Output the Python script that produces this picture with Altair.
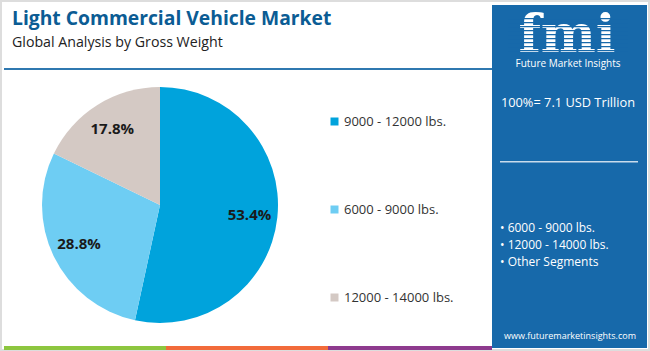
import altair as alt
import pandas as pd

# ---- data ----
segments = ["9000 - 12000 lbs.", "6000 - 9000 lbs.", "12000 - 14000 lbs."]
shares = [53.4, 28.8, 17.8]
share_labels = ["53.4%", "28.8%", "17.8%"]
colors = ["#00a3dc", "#6ecdf3", "#d4c9c4"]

title_text = "Light Commercial Vehicle Market"
subtitle_text = "Global Analysis by Gross Weight"
total_text = "100%= 7.1 USD Trillion"
bullets = ["• 6000 - 9000 lbs.", "• 12000 - 14000 lbs.", "• Other Segments"]
logo_text = "fmi"
logo_sub = "Future Market Insights"
site_text = "www.futuremarketinsights.com"

PANEL = "#1769aa"
FONT = "Open Sans"

df = pd.DataFrame({"segment": segments, "share": shares,
                   "label": share_labels, "order": list(range(len(segments)))})
one = pd.DataFrame({"k": [0]})


def rect(x, x2, y, y2, color, **kw):
    return alt.Chart(one).mark_rect(color=color, **kw).encode(
        x=alt.value(x), x2=alt.value(x2), y=alt.value(y), y2=alt.value(y2))


def txt(s, x, y, size, color, weight="normal", font=FONT, align="left"):
    return alt.Chart(one).mark_text(text=s, fontSize=size, color=color,
                                    fontWeight=weight, font=font, align=align,
                                    baseline="alphabetic").encode(
        x=alt.value(x), y=alt.value(y))


layers = []
# frame
layers.append(alt.Chart(one).mark_rect(fill="white", stroke="#dddddd", strokeWidth=2).encode(
    x=alt.value(1), x2=alt.value(649), y=alt.value(1), y2=alt.value(350)))
# title
layers.append(txt(title_text, 12, 25, 19.3, "#0b5c94", weight="bold"))
layers.append(txt(subtitle_text, 12, 46.5, 14.2, "#222222"))
layers.append(rect(4, 492, 68, 70, "#2f78b0"))

# pie
base = alt.Chart(df).encode(
    theta=alt.Theta("share:Q", stack=True),
    order=alt.Order("order:Q"),
    x=alt.value(160), y=alt.value(205))
pie = base.mark_arc(outerRadius=118).encode(
    color=alt.Color("segment:N", scale=alt.Scale(domain=segments, range=colors),
                    legend=alt.Legend(orient="none", legendX=328, legendY=115, title=None,
                                      symbolType="square", symbolSize=64,
                                      symbolStrokeWidth=0, labelFontSize=13,
                                      labelFont=FONT, labelColor="#333333",
                                      rowPadding=74, labelOffset=3)))
labels = base.mark_text(radius=90, fontSize=15, fontWeight="bold", font=FONT,
                        color="#1a1a1a").encode(text="label:N")
layers += [pie, labels]

# right panel
layers.append(rect(492, 647, 5, 348, PANEL))
layers.append(txt(logo_text, 567, 52, 52, "white", weight="bold", font="DejaVu Serif", align="center"))
for yy in range(18, 52, 4):
    layers.append(rect(508, 628, yy, yy + 1.3, PANEL))
layers.append(txt(logo_sub, 568, 67, 10, "white", align="center"))
layers.append(txt(total_text, 568, 107, 12.8, "white", align="center"))
layers.append(rect(500, 638, 161, 162.5, "#c9dcec"))
for i, b in enumerate(bullets):
    layers.append(txt(b, 500, 232 + i * 17, 12, "white"))
layers.append(txt(site_text, 570, 339, 9, "white", align="center"))

# bottom stripe
layers.append(rect(4, 166, 346, 350, "#8dc63f"))
layers.append(rect(166, 328, 346, 350, "#f26b3a"))
layers.append(rect(328, 492, 346, 350, "#8e3a8e"))

chart = alt.layer(*layers).properties(
    width=650, height=351, autosize=alt.AutoSizeParams(type="none"), padding=0
).configure_view(stroke=None).configure(background="white")

chart.save("out.html", embed_options={"renderer": "svg", "actions": False})
